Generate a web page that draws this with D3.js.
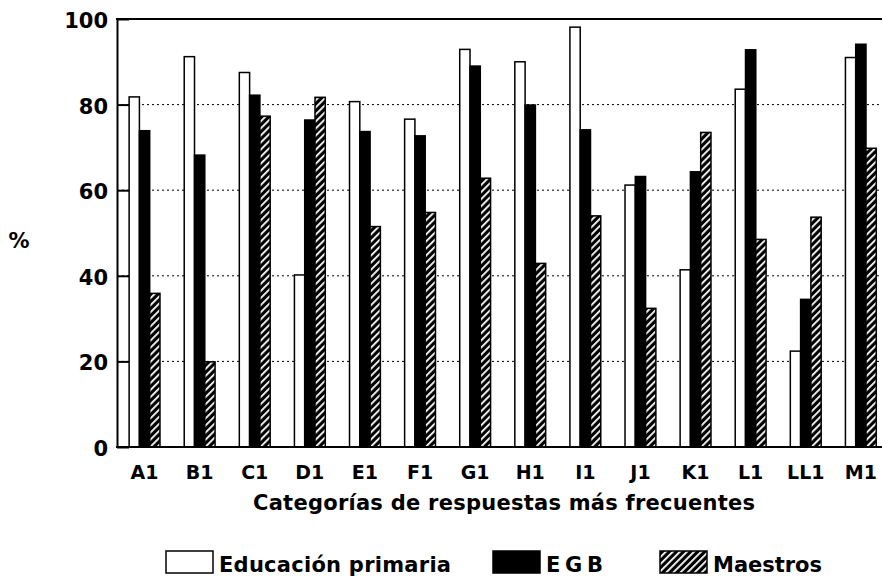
<!DOCTYPE html>
<html>
<head>
<meta charset="utf-8">
<script src="https://cdn.jsdelivr.net/npm/d3@7"></script>
<style>
  html, body { margin: 0; padding: 0; background: #fff; }
  svg { display: block; }
  text { font-family: "DejaVu Sans", sans-serif; font-weight: bold; fill: #000; }
</style>
</head>
<body>
<svg id="chart" width="882" height="580"></svg>
<script>
// ---- data ----
const categories = ["A1","B1","C1","D1","E1","F1","G1","H1","I1","J1","K1","L1","LL1","M1"];
const seriesNames = ["Educación primaria","EGB","Maestros"];
const educacionPrimaria = [81.8, 91.2, 87.5, 40.2, 80.7, 76.6, 92.9, 90.0, 98.1, 61.2, 41.4, 83.6, 22.4, 91.0];
const egb              = [73.9, 68.2, 82.2, 76.4, 73.7, 72.7, 89.0, 79.9, 74.1, 63.2, 64.3, 92.8, 34.5, 94.1];
const maestros         = [35.9, 19.9, 77.3, 81.7, 51.5, 54.8, 62.8, 42.9, 54.0, 32.4, 73.5, 48.5, 53.7, 69.8];
const yTicks = [0, 20, 40, 60, 80, 100];
const gridTicks = [20, 40, 60, 80];
const yLabel = "%";
const xTitle = "Categorías de respuestas más frecuentes";

const seriesValues = [educacionPrimaria, egb, maestros];

// ---- layout ----
const W = 882, H = 580;
const svg = d3.select("#chart");

const defs = svg.append("defs");
const pat = defs.append("pattern")
  .attr("id", "hatch").attr("patternUnits", "userSpaceOnUse")
  .attr("width", 5).attr("height", 5)
  .attr("patternTransform", "rotate(45)");
pat.append("rect").attr("width", 5).attr("height", 5).attr("fill", "#000");
pat.append("rect").attr("x", 0).attr("width", 1.8).attr("height", 5).attr("fill", "#fff");

const y = d3.scaleLinear().domain([0, 100]).range([447, 19]);
const x = d3.scaleBand().domain(categories).range([117, 888.4]).paddingInner(0.44).paddingOuter(0.22);
const xs = d3.scaleBand().domain(seriesNames).range([0, x.bandwidth()]);

const fills = ["#fff", "#000", "url(#hatch)"];

// grid lines
svg.append("g").selectAll("line").data(gridTicks).join("line")
  .attr("x1", x.range()[0]).attr("x2", W)
  .attr("y1", d => y(d)).attr("y2", d => y(d))
  .attr("stroke", "#000").attr("stroke-width", 1)
  .attr("stroke-dasharray", "2,3");

// bars
const rows = categories.map((c, i) => ({ cat: c, vals: seriesNames.map((s, j) => ({ s, j, v: seriesValues[j][i] })) }));
const groups = svg.append("g").selectAll("g").data(rows).join("g")
  .attr("transform", d => `translate(${x(d.cat)},0)`);
groups.selectAll("rect").data(d => d.vals).join("rect")
  .attr("x", d => xs(d.s))
  .attr("y", d => y(d.v))
  .attr("width", xs.bandwidth())
  .attr("height", d => y(0) - y(d.v))
  .attr("fill", d => fills[d.j])
  .attr("stroke", "#000")
  .attr("stroke-width", 1.5);

// frame top line
svg.append("line")
  .attr("x1", x.range()[0] - 1).attr("x2", W)
  .attr("y1", y(100)).attr("y2", y(100))
  .attr("stroke", "#000").attr("stroke-width", 2);

// y axis
const yAxis = svg.append("g").attr("transform", `translate(${x.range()[0]},0)`)
  .call(d3.axisLeft(y).tickValues(yTicks).tickSizeInner(-12).tickSizeOuter(0).tickPadding(9));
yAxis.select(".domain").attr("stroke-width", 2);
yAxis.selectAll(".tick line").attr("stroke-width", 2);
yAxis.selectAll("text").attr("font-size", 21).attr("font-family", "DejaVu Sans").attr("font-weight", "bold").attr("dy", "0.4em");

// x axis
const xAxis = svg.append("g").attr("transform", `translate(0,${y(0)})`)
  .call(d3.axisBottom(x).tickSize(0).tickPadding(19));
xAxis.select(".domain").attr("d", `M${x.range()[0] - 1},0H${W}`).attr("stroke-width", 2);
xAxis.selectAll("text").attr("font-size", 19).attr("font-family", "DejaVu Sans").attr("font-weight", "bold");

// y label
svg.append("text").attr("x", 19).attr("y", 248).attr("text-anchor", "middle")
  .attr("font-size", 21).text(yLabel);

// x title
svg.append("text").attr("x", 504).attr("y", 510).attr("text-anchor", "middle")
  .attr("font-size", 21).attr("textLength", 502).attr("lengthAdjust", "spacing").text(xTitle);

// legend
const legendX = [166, 493, 660];
const legendTextW = [232, 57, 109];
const lg = svg.append("g").selectAll("g").data(seriesNames).join("g");
lg.append("rect")
  .attr("x", (d, i) => legendX[i]).attr("y", 551)
  .attr("width", 47).attr("height", 22)
  .attr("fill", (d, i) => fills[i]).attr("stroke", "#000").attr("stroke-width", 1.5);
lg.append("text")
  .attr("x", (d, i) => legendX[i] + 53).attr("y", 572)
  .attr("font-size", 21)
  .attr("textLength", (d, i) => legendTextW[i]).attr("lengthAdjust", "spacing")
  .text(d => d);
</script>
</body>
</html>
